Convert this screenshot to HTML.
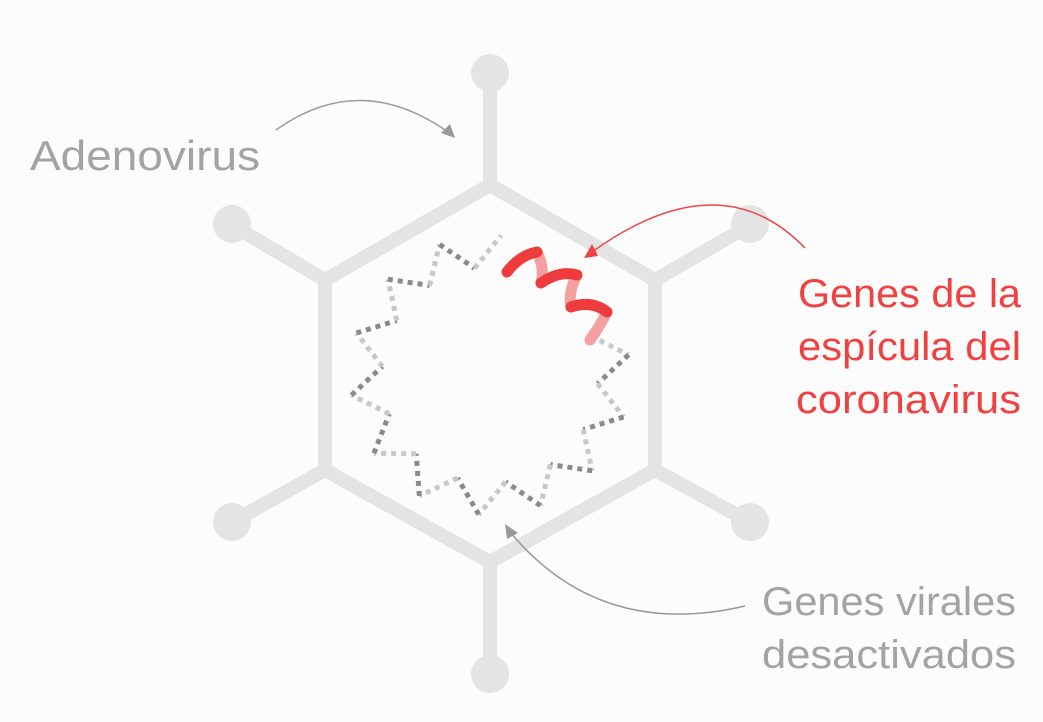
<!DOCTYPE html>
<html><head><meta charset="utf-8"><style>
html,body{margin:0;padding:0;background:#fcfcfc;}
svg{display:block}
text{font-family:"Liberation Sans",sans-serif;}
</style></head><body>
<svg width="1043" height="722" viewBox="0 0 1043 722" xmlns="http://www.w3.org/2000/svg">
<rect width="1043" height="722" fill="#fcfcfc"/>
<g stroke="#e4e4e4" stroke-width="14" fill="none" stroke-linejoin="miter">
<polygon points="490,185 655,280 655,470 490,562 325,470 325,280"/>
<line x1="490" y1="185" x2="490" y2="75"/>
<line x1="490" y1="562" x2="490" y2="672"/>
<line x1="325" y1="280" x2="232" y2="225"/>
<line x1="655" y1="280" x2="750" y2="225"/>
<line x1="325" y1="470" x2="232" y2="522"/>
<line x1="655" y1="470" x2="750" y2="522"/>
</g>
<g fill="#e4e4e4">
<circle cx="490" cy="73" r="19"/><circle cx="490" cy="674" r="19"/>
<circle cx="232" cy="224" r="19"/><circle cx="750" cy="224" r="19"/>
<circle cx="232" cy="522" r="19"/><circle cx="750" cy="522" r="19"/>
</g>
<g id="ring"></g>
<g fill="none" stroke-linecap="round" stroke-width="11">
<path d="M537,252 Q545,268 541,283" stroke="#f5a0a0"/>
<path d="M577,275 Q568,292 571,307" stroke="#f5a0a0"/>
<path d="M607,312 Q600,326 590,340" stroke="#f5a0a0"/>
<path d="M507,272 Q520,255 537,252" stroke="#ee3b3b"/>
<path d="M541,283 Q560,270 577,275" stroke="#ee3b3b"/>
<path d="M571,307 Q592,300 607,312" stroke="#ee3b3b"/>
</g>
<g fill="none" stroke-width="1.5">
<path d="M276,130 Q360,70 448,132" stroke="#999"/>
<path d="M805,248 Q720,160 592,252" stroke="#ee4444"/>
<path d="M745,606 Q600,640 510,532" stroke="#999"/>
</g>
<polygon points="455,138 441,133 450,124" fill="#999"/>
<polygon points="584,258 592,244 598,256" fill="#ee4444"/>
<polygon points="505,524 518,533 507,539" fill="#999"/>
<text x="30" y="170" font-size="42" fill="#a3a3a3" textLength="230" lengthAdjust="spacingAndGlyphs">Adenovirus</text>
<g font-size="40" fill="#f24040">
<text x="798" y="307" textLength="223" lengthAdjust="spacingAndGlyphs">Genes de la</text>
<text x="798" y="360" textLength="223" lengthAdjust="spacingAndGlyphs">espícula del</text>
<text x="796" y="413" textLength="225" lengthAdjust="spacingAndGlyphs">coronavirus</text>
</g>
<g font-size="40" fill="#a3a3a3">
<text x="762" y="615" textLength="254" lengthAdjust="spacingAndGlyphs">Genes virales</text>
<text x="762" y="668" textLength="254" lengthAdjust="spacingAndGlyphs">desactivados</text>
</g>
</svg>
<script>
(function(){
var g=document.getElementById('ring'),cx=490,cy=375,n=14,R=140,r=108,pts=[];
for(var i=0;i<2*n;i++){var a=-Math.PI/2+i*Math.PI/n+0.08;var rr=i%2?r:R;pts.push([cx+rr*Math.cos(a),cy+rr*Math.sin(a)]);}
var ns='http://www.w3.org/2000/svg';
for(var i=0;i<pts.length;i++){var p=pts[i],q=pts[(i+1)%pts.length];
var mx=(p[0]+q[0])/2;if(mx>505&&mx<600&&(p[1]+q[1])/2<345)continue;
var l=document.createElementNS(ns,'line');l.setAttribute('x1',p[0]);l.setAttribute('y1',p[1]);l.setAttribute('x2',q[0]);l.setAttribute('y2',q[1]);
l.setAttribute('stroke',i%2?'#c8c8c8':'#8a8a8a');l.setAttribute('stroke-width','5');l.setAttribute('stroke-dasharray','5 5');g.appendChild(l);}
})();
</script>
</body></html>
